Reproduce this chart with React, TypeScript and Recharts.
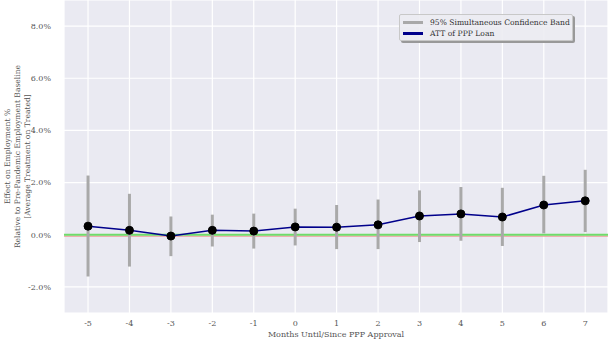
import React from 'react';
import {
  CartesianGrid,
  ComposedChart,
  ErrorBar,
  Line,
  ReferenceLine,
  XAxis,
  YAxis,
} from 'recharts';

const months = [-5, -4, -3, -2, -1, 0, 1, 2, 3, 4, 5, 6, 7];
const att = [0.33, 0.17, -0.05, 0.17, 0.14, 0.3, 0.29, 0.38, 0.72, 0.8, 0.68, 1.14, 1.3];
const bandLow = [-1.6, -1.22, -0.82, -0.45, -0.53, -0.41, -0.55, -0.55, -0.28, -0.23, -0.43, 0.05, 0.1];
const bandHigh = [2.27, 1.57, 0.7, 0.77, 0.81, 1.0, 1.14, 1.35, 1.7, 1.83, 1.8, 2.26, 2.49];
const yTicks = [-2, 0, 2, 4, 6, 8];

const data = months.map((m, i) => ({
  month: m,
  att: att[i],
  band: [att[i] - bandLow[i], bandHigh[i] - att[i]],
}));

const FONT = '"DejaVu Serif", serif';
const TEXT = '#555';

const YLabel = (props: any) => {
  const { viewBox } = props;
  const cy = viewBox.y + viewBox.height / 2;
  const lines = [
    'Effect on Employment %',
    'Relative to Pre-Pandemic Employment Baseline',
    '[Average Treatment on Treated]',
  ];
  return (
    <g>
      {lines.map((t, i) => (
        <text
          key={i}
          x={10 + i * 10}
          y={cy}
          transform={`rotate(-90, ${10 + i * 10}, ${cy})`}
          textAnchor="middle"
          fontSize={7.6}
          fontFamily={FONT}
          fill={TEXT}
        >
          {t}
        </text>
      ))}
    </g>
  );
};

const XLabel = (props: any) => {
  const { viewBox } = props;
  return (
    <text
      x={viewBox.x + viewBox.width / 2}
      y={337}
      textAnchor="middle"
      fontSize={8}
      fontFamily={FONT}
      fill={TEXT}
    >
      Months Until/Since PPP Approval
    </text>
  );
};

const ZeroLine = (props: any) => {
  const { x1, x2, y1 } = props;
  return (
    <g>
      <line x1={x1} x2={x2} y1={y1 + 1.4} y2={y1 + 1.4} stroke="#f08c8c" strokeWidth={1} />
      <line x1={x1} x2={x2} y1={y1} y2={y1} stroke="#6fdc6a" strokeWidth={1.8} />
    </g>
  );
};

const LegendBox = () => (
  <div
    style={{
      position: 'absolute',
      left: 399,
      top: 14,
      width: 174,
      height: 27,
      background: 'rgba(236,236,242,0.9)',
      border: '1px solid #c8c8c8',
      borderRadius: 2,
      boxShadow: '2px 2px 0 #999',
      fontFamily: FONT,
      fontSize: 7.6,
      color: '#333',
      boxSizing: 'border-box',
      padding: '2px 0 0 3px',
      lineHeight: '11px',
      whiteSpace: 'nowrap',
    }}
  >
    <div style={{ display: 'flex', alignItems: 'center' }}>
      <span style={{ display: 'inline-block', width: 20, height: 3, background: '#a9a9a9', marginRight: 7 }} />
      95% Simultaneous Confidence Band
    </div>
    <div style={{ display: 'flex', alignItems: 'center' }}>
      <span style={{ display: 'inline-block', width: 20, height: 3, background: '#00008b', marginRight: 7 }} />
      ATT of PPP Loan
    </div>
  </div>
);

export default function App() {
  return (
    <div style={{ position: 'absolute', left: 0, top: 0, width: 610, height: 340 }}>
      <ComposedChart
        width={610}
        height={340}
        data={data}
        margin={{ top: 0, right: 2, left: 0, bottom: 0 }}
      >
        <CartesianGrid stroke="#ffffff" strokeWidth={1.2} fill="#eaeaf2" fillOpacity={1} />
        <XAxis
          dataKey="month"
          type="number"
          domain={[-5.58, 7.55]}
          ticks={months}
          interval={0}
          allowDataOverflow
          height={27}
          axisLine={false}
          tickLine={false}
          tickMargin={1}
          tick={{ fontSize: 8, fontFamily: FONT, fill: TEXT }}
          label={<XLabel />}
        />
        <YAxis
          type="number"
          domain={[-3, 9]}
          ticks={yTicks}
          allowDataOverflow
          width={64}
          axisLine={false}
          tickLine={false}
          tickMargin={7}
          tickFormatter={(v: number) => `${v.toFixed(1)}%`}
          tick={{ fontSize: 8, fontFamily: FONT, fill: TEXT }}
          label={<YLabel />}
        />
        <ReferenceLine y={0} shape={<ZeroLine />} />
        <Line
          dataKey="att"
          stroke="#00008b"
          strokeWidth={1.5}
          dot={{ r: 4, fill: '#000', stroke: '#000', strokeWidth: 1 }}
          isAnimationActive={false}
        >
          <ErrorBar dataKey="band" direction="y" width={0} stroke="#a9a9a9" strokeWidth={3} />
        </Line>
      </ComposedChart>
      <LegendBox />
    </div>
  );
}
